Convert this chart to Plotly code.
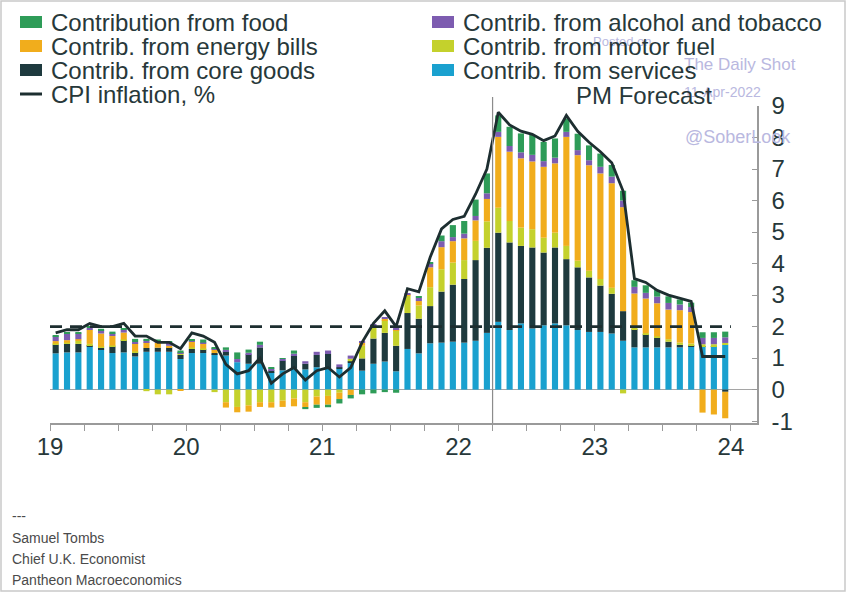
import numpy as np
import plotly.graph_objects as go

# ---------------- data (Jan 2019 .. Dec 2023, monthly) ----------------
months = [f"{y}-{m:02d}" for y in range(2019, 2024) for m in range(1, 13)]

services = [1.15, 1.18, 1.18, 1.36, 1.27, 1.16, 1.18, 1.05, 1.20, 1.20, 1.20, 0.97,
            1.16, 1.16, 1.12, 1.08, 0.87, 0.82, 0.82, 0.55, 0.61, 0.66, 0.64, 0.71,
            0.66, 0.66, 0.85, 0.60, 0.82, 0.89, 0.58, 1.29, 1.15, 1.47, 1.49, 1.52,
            1.49, 1.55, 1.80, 2.15, 1.89, 2.10, 1.94, 2.04, 2.10, 2.04, 1.89, 1.83,
            1.83, 1.78, 1.55, 1.34, 1.34, 1.34, 1.34, 1.34, 1.36, 1.36, 1.36, 1.42]
core_goods = [0.28, 0.28, 0.27, 0.04, 0.06, 0.21, 0.39, 0.13, 0.12, 0.13, 0.14, 0.13,
              0.13, 0.12, 0.04, 0.13, 0.00, 0.30, 0.52, 0.06, 0.31, 0.42, 0.18, 0.39,
              0.47, 0.05, 0.05, 0.39, 0.80, 0.91, 0.81, 1.14, 1.10, 1.18, 1.62, 1.81,
              2.02, 2.56, 2.70, 2.83, 2.78, 2.46, 2.57, 2.31, 2.41, 2.10, 1.99, 1.73,
              1.47, 1.26, 0.94, 0.58, 0.42, 0.31, 0.18, 0.08, 0.05, 0.02, 0.02, -0.07]
motor_fuel = [0.03, 0.03, 0.10, 0.05, 0.03, 0.03, 0.02, 0.03, -0.05, -0.15, -0.15, 0.03,
              0.05, 0.03, -0.08, -0.40, -0.55, -0.50, -0.40, -0.40, -0.35, -0.28, -0.40, -0.22,
              -0.20, -0.10, 0.08, 0.40, 0.35, 0.40, 0.50, 0.56, 0.42, 0.60, 0.71, 0.70,
              0.60, 0.61, 0.84, 0.79, 0.68, 0.58, 0.58, 0.47, 0.47, 0.42, 0.21, 0.21,
              0.21, 0.19, -0.12, 0.03, 0.03, 0.04, 0.08, 0.07, 0.05, 0.06, 0.06, 0.06]
energy_bills = [0.08, 0.08, 0.05, 0.45, 0.42, 0.30, 0.22, 0.25, 0.18, 0.15, 0.05, -0.03,
                0.18, 0.15, 0.12, -0.17, -0.17, -0.20, -0.15, -0.17, -0.20, -0.25, -0.16, -0.26,
                -0.28, -0.20, -0.17, 0.10, 0.05, 0.05, 0.03, 0.02, 0.14, 0.63, 0.70, 0.68,
                0.69, 0.65, 0.71, 2.25, 2.20, 2.20, 2.15, 2.25, 2.20, 3.46, 3.35, 3.35,
                3.35, 3.32, 3.30, 1.10, 1.10, 1.05, 0.94, 1.03, 1.00, -0.73, -0.79, -0.84]
alcohol_tobacco = [0.15, 0.20, 0.18, 0.06, 0.10, 0.08, 0.10, 0.05, 0.06, 0.05, 0.10, 0.05,
                   0.03, 0.03, 0.03, 0.05, 0.10, 0.05, 0.08, 0.06, 0.06, 0.06, 0.08, 0.10,
                   0.11, 0.09, 0.10, 0.03, 0.05, 0.05, 0.02, 0.03, 0.10, 0.12, 0.19, 0.13,
                   0.15, 0.14, 0.18, 0.16, 0.18, 0.19, 0.21, 0.18, 0.18, 0.16, 0.16, 0.16,
                   0.21, 0.21, 0.21, 0.21, 0.18, 0.21, 0.21, 0.18, 0.16, 0.20, 0.20, 0.18]
food = [0.03, 0.03, 0.04, 0.05, 0.05, 0.06, 0.03, 0.10, 0.05, 0.06, 0.05, 0.06,
        0.03, 0.10, 0.03, 0.08, 0.21, 0.10, 0.10, 0.04, 0.02, 0.10, -0.06, -0.10,
        -0.08, -0.14, -0.11, -0.15, -0.12, -0.08, -0.10, 0.00, 0.05, 0.05, 0.18, 0.38,
        0.40, 0.52, 0.63, 0.52, 0.61, 0.60, 0.63, 0.61, 0.61, 0.42, 0.52, 0.47,
        0.42, 0.37, 0.31, 0.21, 0.24, 0.21, 0.21, 0.16, 0.14, 0.18, 0.18, 0.18]
cpi = [1.8, 1.9, 1.9, 2.1, 2.0, 2.0, 2.1, 1.7, 1.7, 1.5, 1.5, 1.3,
       1.8, 1.7, 1.5, 0.8, 0.5, 0.6, 1.0, 0.2, 0.5, 0.7, 0.3, 0.6,
       0.7, 0.4, 0.7, 1.5, 2.1, 2.5, 2.0, 3.2, 3.1, 4.2, 5.1, 5.4,
       5.5, 6.2, 7.0, 8.8, 8.4, 8.2, 8.1, 7.9, 8.05, 8.7, 8.2, 7.85,
       7.55, 7.2, 6.3, 3.52, 3.4, 3.15, 3.0, 2.9, 2.8, 1.05, 1.05, 1.05]

target_x = [0, 60]          # months since Jan 2019
target_y = [2.0, 2.0]       # 2% target
forecast_start = 39         # April 2022
year_ticks = [0, 12, 24, 36, 48, 60]
year_labels = ["19", "20", "21", "22", "23", "24"]
quarter_ticks = list(range(0, 63, 3))
y_ticks = list(range(-1, 10))
y_labels = [str(v) for v in y_ticks]

series = [
    ("Contrib. from services", services, "#1aa1cf"),
    ("Contrib. from core goods", core_goods, "#1e3a3e"),
    ("Contrib. from motor fuel", motor_fuel, "#c4d12c"),
    ("Contrib. from energy bills", energy_bills, "#f1ad1c"),
    ("Contrib. from alcohol and tobacco", alcohol_tobacco, "#7d5cb0"),
    ("Contribution from food", food, "#2e9c58"),
]

# ---------------- figure ----------------
x_pos = np.arange(len(months)) + 0.5
fig = go.Figure()
for name, vals, col in series:
    fig.add_trace(go.Bar(x=x_pos, y=vals, name=name, marker_color=col,
                         marker_line_width=0, width=0.54, showlegend=False))

fig.add_trace(go.Scatter(x=target_x, y=target_y, mode="lines",
                         line=dict(color="#1d2e30", width=2.6, dash="12px,8px"),
                         showlegend=False, hoverinfo="skip"))
fig.add_trace(go.Scatter(x=x_pos, y=cpi, mode="lines", name="CPI inflation, %",
                         line=dict(color="#1d2e30", width=2.8), showlegend=False))

L, R, T, B = 50, 89, 106, 169
W, H = 846, 592
PW, PH = W - L - R, H - T - B


def px(x):
    return (x - L) / PW


def py(y):
    return (H - B - y) / PH


text_col = "#27383a"
shapes = []
annotations = []

# custom legend
legend_items = [
    ("Contribution from food", "#2e9c58", 20, 22),
    ("Contrib. from energy bills", "#f1ad1c", 20, 46),
    ("Contrib. from core goods", "#1e3a3e", 20, 70),
    ("Contrib. from alcohol and tobacco", "#7d5cb0", 432, 22),
    ("Contrib. from motor fuel", "#c4d12c", 432, 46),
    ("Contrib. from services", "#1aa1cf", 432, 70),
]

# watermark (drawn first so legend text sits on top)
wm = "#b9b8e0"
annotations += [
    dict(text="Posted on", x=px(622), y=py(42), font=dict(size=13, color=wm)),
    dict(text="The Daily Shot", x=px(740), y=py(65), font=dict(size=17, color=wm)),
    dict(text="11-Apr-2022", x=px(722), y=py(92), font=dict(size=14, color=wm)),
    dict(text="@SoberLook", x=px(738), y=py(137), font=dict(size=18, color=wm)),
]

for label, col, x0, yc in legend_items:
    shapes.append(dict(type="rect", xref="paper", yref="paper",
                       x0=px(x0), x1=px(x0 + 22), y0=py(yc + 6), y1=py(yc - 6),
                       fillcolor=col, line=dict(width=0)))
    annotations.append(dict(text=label, x=px(x0 + 29), y=py(yc), xanchor="left",
                            font=dict(size=24, color=text_col)))
shapes.append(dict(type="line", xref="paper", yref="paper",
                   x0=px(20), x1=px(42), y0=py(94), y1=py(94),
                   line=dict(color="#1d2e30", width=3)))
annotations.append(dict(text="CPI inflation, %", x=px(49), y=py(94), xanchor="left",
                        font=dict(size=24, color=text_col)))

annotations.append(dict(text="PM Forecast", x=px(644), y=py(95),
                        font=dict(size=24, color=text_col)))

footer = ["---", "Samuel Tombs", "Chief U.K. Economist", "Pantheon Macroeconomics"]
for txt, yy in zip(footer, [516, 538, 559, 580]):
    annotations.append(dict(text=txt, x=px(10), y=py(yy), xanchor="left",
                            font=dict(size=14, color="#4a4a4a")))

for a in annotations:
    a.setdefault("xref", "paper")
    a.setdefault("yref", "paper")
    a.setdefault("showarrow", False)
    a.setdefault("yanchor", "middle")
    a.setdefault("xanchor", "center")
    a["font"]["family"] = "Liberation Sans, Arial, sans-serif"

# forecast divider
shapes.append(dict(type="line", xref="x", yref="paper", x0=forecast_start, x1=forecast_start,
                   y0=0, y1=py(97), line=dict(color="#8c8c8c", width=1.2), layer="above"))
# outer frame
shapes.append(dict(type="rect", xref="paper", yref="paper",
                   x0=px(1), x1=px(845), y0=py(591), y1=py(1),
                   line=dict(color="#c9c9c9", width=1.5)))

fig.update_layout(
    width=W, height=H,
    margin=dict(l=L, r=R, t=T, b=B),
    barmode="relative",
    plot_bgcolor="white", paper_bgcolor="white",
    font=dict(family="Liberation Sans, Arial, sans-serif", color=text_col),
    shapes=shapes, annotations=annotations,
    showlegend=False,
)
fig.update_xaxes(range=[0, 62.3], tickvals=year_ticks, ticktext=year_labels,
                 ticks="outside", ticklen=6, tickwidth=1.2, tickcolor="#9a9a9a",
                 minor=dict(tickvals=quarter_ticks, ticks="outside", ticklen=6,
                            tickwidth=1.2, tickcolor="#9a9a9a"),
                 showline=True, linecolor="#9a9a9a", linewidth=1.5,
                 showgrid=False, zeroline=False, ticklabelstandoff=-5,
                 tickfont=dict(size=24, color=text_col))
fig.update_yaxes(range=[-1.06, 9.0], side="right", tickvals=y_ticks, ticktext=y_labels,
                 ticks="inside", ticklen=5, tickwidth=1.2, tickcolor="#9a9a9a",
                 showline=True, linecolor="#9a9a9a", linewidth=1.5,
                 showgrid=False, zeroline=True, zerolinecolor="#a5a5a5", zerolinewidth=1,
                 ticklabelstandoff=8,
                 tickfont=dict(size=24, color=text_col))

fig.write_html("out.html")
